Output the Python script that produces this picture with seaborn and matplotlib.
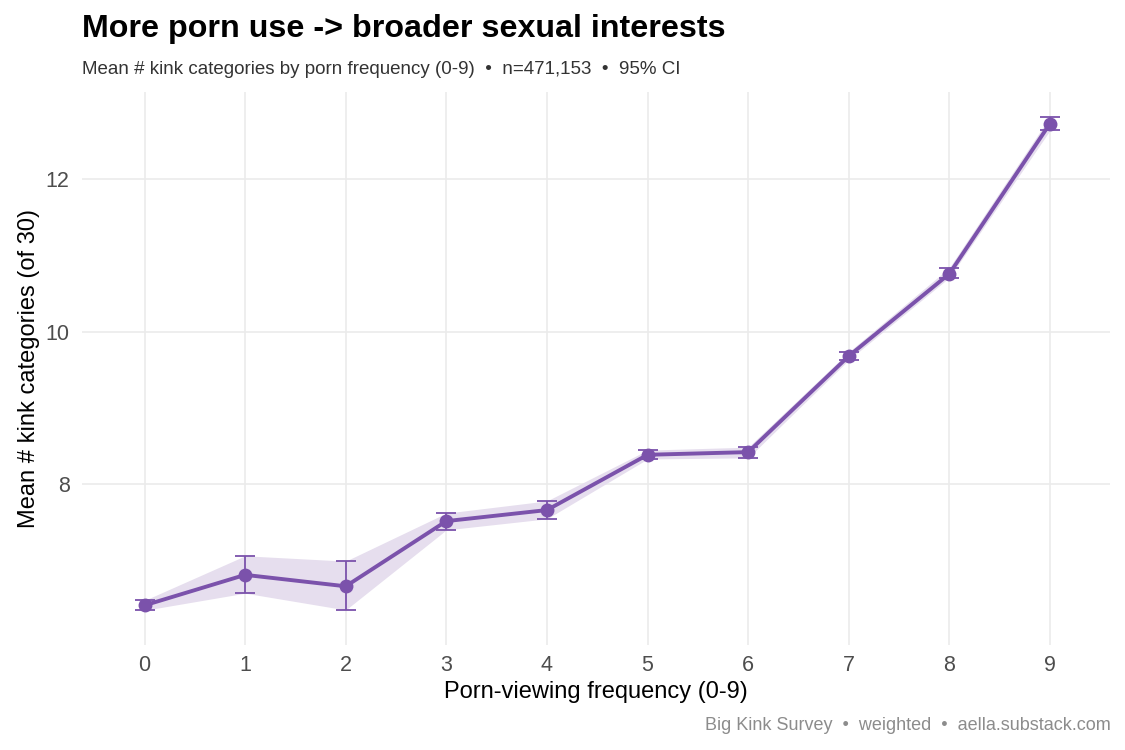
import matplotlib
matplotlib.use("Agg")
import matplotlib.pyplot as plt
import pandas as pd
import seaborn as sns

# Data
freq = [0, 1, 2, 3, 4, 5, 6, 7, 8, 9]
mean_kinks = [6.41, 6.81, 6.66, 7.515, 7.66, 8.385, 8.42, 9.68, 10.76, 12.73]
ci_low = [6.345, 6.57, 6.35, 7.40, 7.545, 8.33, 8.345, 9.63, 10.71, 12.64]
ci_high = [6.475, 7.06, 6.99, 7.62, 7.78, 8.446, 8.485, 9.735, 10.84, 12.82]
y_ticks = [8, 10, 12]

df = pd.DataFrame({'freq': freq, 'mean': mean_kinks, 'lo': ci_low, 'hi': ci_high})

purple = '#7B52AB'

sns.set_style('white')
plt.rcParams['font.family'] = ['Liberation Sans', 'DejaVu Sans']

fig, ax = plt.subplots(figsize=(11.25, 7.5), dpi=100)
fig.subplots_adjust(left=0.073, right=0.987, top=0.877, bottom=0.14)

# CI ribbon
ax.fill_between(df['freq'], df['lo'], df['hi'], color='#E6DEEE', lw=0, zorder=1)

# error bars
ax.errorbar(df['freq'], df['mean'],
            yerr=[df['mean'] - df['lo'], df['hi'] - df['mean']],
            fmt='none', ecolor=purple, elinewidth=1.3, capsize=7, capthick=1.3, zorder=2)

# line + points
sns.lineplot(data=df, x='freq', y='mean', color=purple, lw=2.8, marker='o',
             markersize=10, markeredgewidth=0, ax=ax, zorder=3)

ax.set_xlim(-0.62, 9.6)
ax.set_ylim(5.89, 13.14)
ax.set_xticks(freq)
ax.set_yticks(y_ticks)
ax.grid(True, color='#EBEBEB', lw=1.2)
ax.set_axisbelow(True)
for s in ax.spines.values():
    s.set_visible(False)
ax.tick_params(axis='both', length=0, labelsize=15.5, labelcolor='#4D4D4D')
ax.tick_params(axis='y', pad=9)
ax.tick_params(axis='x', pad=7)

ax.set_xlabel('Porn-viewing frequency (0-9)', fontsize=17, color='black', labelpad=4)
ax.set_ylabel('Mean # kink categories (of 30)', fontsize=17, color='black', labelpad=4)

fig.text(0.073, 0.962, 'More porn use -> broader sexual interests', fontsize=23.2,
         fontweight='bold', ha='left', va='center', color='black')
fig.text(0.073, 0.908, 'Mean # kink categories by porn frequency (0-9)  \u2022  n=471,153  \u2022  95% CI',
         fontsize=13.5, ha='left', va='center', color='#333333')
fig.text(0.987, 0.033, 'Big Kink Survey  \u2022  weighted  \u2022  aella.substack.com',
         fontsize=13, ha='right', va='center', color='#8C8C8C')

fig.savefig('out.png', dpi=100)
